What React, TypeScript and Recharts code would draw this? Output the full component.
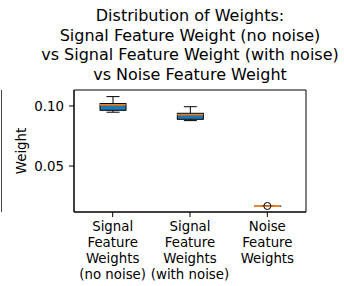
import React from 'react';
import { ComposedChart, Bar, Line, XAxis, YAxis, ReferenceArea } from 'recharts';

const categories = [
  'Signal\nFeature\nWeights\n(no noise)',
  'Signal\nFeature\nWeights\n(with noise)',
  'Noise\nFeature\nWeights',
];
const whiskerLow = [0.0948, 0.0878, 0.0164];
const quartile1 = [0.0964, 0.0889, 0.0164];
const medians = [0.101, 0.0928, 0.0165];
const quartile3 = [0.102, 0.0939, 0.0166];
const whiskerHigh = [0.1078, 0.0994, 0.0166];
const fliers: (number | null)[] = [null, null, 0.0167];
const yTicks = [0.05, 0.1];
const yDomain = [0.0117, 0.1133];
const titleLines = [
  'Distribution of Weights:',
  'Signal Feature Weight (no noise)',
  'vs Signal Feature Weight (with noise)',
  'vs Noise Feature Weight',
];
const yLabel = 'Weight';

const data = categories.map((name, i) => ({
  name,
  box: [quartile1[i], quartile3[i]],
  low: whiskerLow[i],
  q1: quartile1[i],
  med: medians[i],
  q3: quartile3[i],
  high: whiskerHigh[i],
  flier: fliers[i],
}));

const FONT = 'DejaVu Sans';
const BOX_W = 26;

const BoxShape = (props: any) => {
  const { x, y, width, height, payload } = props;
  if (x == null || y == null) return <g />;
  const top = Math.min(y, y + height);
  const h = Math.abs(height);
  const bottom = top + h;
  const cx = x + width / 2;
  const span = payload.q3 - payload.q1;
  const k = span > 0 ? h / span : 0;
  const yHigh = top - (payload.high - payload.q3) * k;
  const yLow = bottom + (payload.q1 - payload.low) * k;
  const capHalf = width / 4;
  return (
    <g>
      <line x1={cx} x2={cx} y1={yHigh} y2={top} stroke="#000" strokeWidth={1} />
      <line x1={cx} x2={cx} y1={bottom} y2={yLow} stroke="#000" strokeWidth={1} />
      <line x1={cx - capHalf} x2={cx + capHalf} y1={yHigh} y2={yHigh} stroke="#000" strokeWidth={1} />
      <line x1={cx - capHalf} x2={cx + capHalf} y1={yLow} y2={yLow} stroke="#000" strokeWidth={1} />
      <rect x={x} y={top} width={width} height={h} fill="#1f77b4" stroke="#000" strokeWidth={1} />
    </g>
  );
};

const MedianDot = (props: any) => {
  const { cx, cy, index } = props;
  if (cx == null || cy == null) return <g key={`m${index}`} />;
  return (
    <line key={`m${index}`} x1={cx - BOX_W / 2} x2={cx + BOX_W / 2} y1={cy} y2={cy} stroke="#ff7f0e" strokeWidth={1.5} />
  );
};

const FlierDot = (props: any) => {
  const { cx, cy, index, payload } = props;
  if (cx == null || cy == null || payload.flier == null) return <g key={`f${index}`} />;
  return <circle key={`f${index}`} cx={cx} cy={cy} r={3.5} fill="none" stroke="#000" strokeWidth={1} />;
};

const XTick = (props: any) => {
  const { x, y, payload } = props;
  const lines = String(payload.value).split('\n');
  return (
    <text x={x} y={y} textAnchor="middle" fontFamily={FONT} fontSize={13.33} fill="#000">
      {lines.map((l, i) => (
        <tspan key={i} x={x} dy={i === 0 ? 11.7 : 16}>
          {l}
        </tspan>
      ))}
    </text>
  );
};

export default function App() {
  return (
    <div style={{ position: 'absolute', left: 0, top: 0, width: 344, height: 286, background: '#fff' }}>
      <ComposedChart
        width={344}
        height={286}
        data={data}
        margin={{ top: 90, right: 38, bottom: 0, left: 0 }}
      >
        <XAxis
          dataKey="name"
          type="category"
          height={74}
          tickSize={5}
          tickMargin={2}
          stroke="#000"
          tickLine={{ stroke: '#000' }}
          axisLine={{ stroke: '#000' }}
          tick={<XTick />}
          interval={0}
        />
        <YAxis
          type="number"
          domain={yDomain}
          allowDataOverflow
          ticks={yTicks}
          width={74}
          tickSize={5}
          tickMargin={5}
          stroke="#000"
          tickFormatter={(v: number) => v.toFixed(2)}
          tick={{ fontFamily: FONT, fontSize: 13.33, fill: '#000' }}
        />
        <ReferenceArea
          x1={categories[0]}
          x2={categories[categories.length - 1]}
          y1={yDomain[0]}
          y2={yDomain[1]}
          fill="none"
          fillOpacity={0}
          stroke="#000"
          strokeWidth={1}
          ifOverflow="visible"
        />
        <Bar dataKey="box" barSize={BOX_W} shape={<BoxShape />} isAnimationActive={false} />
        <Line dataKey="med" stroke="none" dot={MedianDot} activeDot={false} isAnimationActive={false} />
        <Line dataKey="flier" stroke="none" dot={FlierDot} activeDot={false} isAnimationActive={false} />
      </ComposedChart>
      <svg
        width={344}
        height={286}
        style={{ position: 'absolute', left: 0, top: 0, pointerEvents: 'none' }}
      >
        {titleLines.map((t, i) => (
          <text key={i} x={190} y={21 + i * 19.5} textAnchor="middle" fontFamily={FONT} fontSize={16} fill="#000">
            {t}
          </text>
        ))}
        <text
          transform="translate(26.4,151) rotate(-90)"
          textAnchor="middle"
          fontFamily={FONT}
          fontSize={13.33}
          fill="#000"
        >
          {yLabel}
        </text>
        <line x1={1.5} x2={1.5} y1={90} y2={212} stroke="#444" strokeWidth={1} />
      </svg>
    </div>
  );
}
